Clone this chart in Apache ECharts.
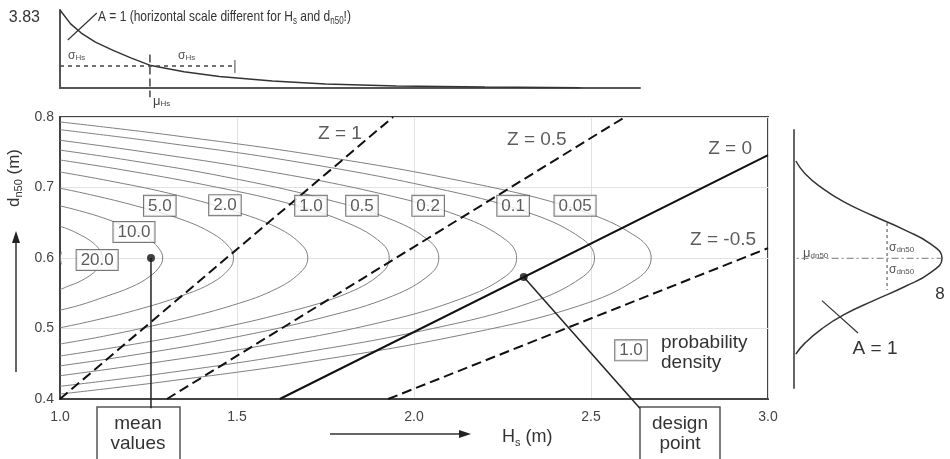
<!DOCTYPE html>
<html>
<head>
<meta charset="utf-8">
<script src="https://cdn.jsdelivr.net/npm/echarts@6/dist/echarts.min.js"></script>
<style>
  html, body { margin: 0; padding: 0; background: #fff; }
  #main { width: 950px; height: 459px; }
</style>
</head>
<body>
<div id="main"></div>
<script>
// contour lines of the joint density: [Hs, dn50]
var c20  = [[1.000,0.645],[1.023,0.641],[1.053,0.634],[1.084,0.625],[1.105,0.616],[1.117,0.607],[1.120,0.600],[1.117,0.593],[1.105,0.584],[1.084,0.575],[1.053,0.566],[1.023,0.560],[1.000,0.555]];
var c10  = [[1.000,0.674],[1.055,0.667],[1.127,0.656],[1.202,0.641],[1.254,0.626],[1.283,0.611],[1.290,0.600],[1.283,0.589],[1.254,0.574],[1.202,0.559],[1.127,0.545],[1.055,0.533],[1.000,0.526]];
var c5   = [[1.000,0.699],[1.093,0.689],[1.214,0.674],[1.342,0.655],[1.430,0.635],[1.479,0.615],[1.490,0.600],[1.479,0.585],[1.430,0.565],[1.342,0.546],[1.214,0.526],[1.093,0.511],[1.000,0.501]];
var c2   = [[1.000,0.722],[1.133,0.710],[1.306,0.692],[1.488,0.667],[1.614,0.643],[1.684,0.618],[1.700,0.600],[1.684,0.582],[1.614,0.557],[1.488,0.533],[1.306,0.509],[1.133,0.490],[1.000,0.478]];
var c1   = [[1.000,0.739],[1.177,0.725],[1.407,0.704],[1.649,0.677],[1.816,0.649],[1.909,0.621],[1.930,0.600],[1.909,0.579],[1.816,0.551],[1.649,0.524],[1.407,0.496],[1.177,0.475],[1.000,0.461]];
var c05  = [[1.000,0.753],[1.203,0.738],[1.468,0.715],[1.746,0.684],[1.939,0.654],[2.046,0.623],[2.070,0.600],[2.046,0.577],[1.939,0.546],[1.746,0.516],[1.468,0.485],[1.203,0.462],[1.000,0.447]];
var c02  = [[1.000,0.767],[1.245,0.750],[1.564,0.725],[1.900,0.692],[2.132,0.659],[2.261,0.625],[2.290,0.600],[2.261,0.575],[2.132,0.542],[1.900,0.508],[1.564,0.475],[1.245,0.450],[1.000,0.433]];
var c01  = [[1.000,0.782],[1.287,0.764],[1.661,0.737],[2.053,0.700],[2.325,0.664],[2.476,0.627],[2.510,0.600],[2.476,0.573],[2.325,0.536],[2.053,0.500],[1.661,0.464],[1.287,0.436],[1.000,0.418]];
var c005 = [[1.000,0.793],[1.317,0.774],[1.731,0.745],[2.165,0.706],[2.465,0.668],[2.632,0.629],[2.670,0.600],[2.632,0.571],[2.465,0.532],[2.165,0.494],[1.731,0.455],[1.317,0.426],[1.000,0.407]];
var c50  = [[1.004,0.609],[1.002,0.604],[1.001,0.600],[1.002,0.596],[1.004,0.591]];

// contour labels
var levelText = ['20.0','10.0','5.0','2.0','1.0','0.5','0.2','0.1','0.05','1.0'];
var levelPos  = [[1.105,0.597],[1.209,0.637],[1.282,0.674],[1.466,0.675],[1.709,0.674],[1.853,0.674],[2.040,0.674],[2.280,0.674],[2.455,0.674],[2.613,0.469]];

// limit state lines Z
var zPlus1   = [[1.000,0.400],[1.941,0.800]];
var zPlus05  = [[1.302,0.400],[2.596,0.800]];
var zZero    = [[1.621,0.400],[3.000,0.746]];
var zMinus05 = [[1.927,0.400],[3.000,0.614]];
var zText = ['Z = 1','Z = 0.5','Z = 0','Z = -0.5'];
var zTextPos = [[1.791,0.776],[2.347,0.767],[2.893,0.755],[2.873,0.626]];

var meanPoint = [1.257, 0.600];
var designPoint = [2.310, 0.573];
var meanLeader = [[1.257,0.600],[1.257,0.387]];
var designLeader = [[2.310,0.573],[2.638,0.387]];

// marginal density of Hs (top), [Hs, density]
var hsDensity = [[1.00,3.83],[1.03,3.15],[1.06,2.70],[1.10,2.25],[1.15,1.85],[1.20,1.48],[1.257,1.10],[1.35,0.80],[1.45,0.56],[1.60,0.34],[1.75,0.20],[1.95,0.10],[2.20,0.045],[2.47,0.015]];
var hsSigma = [[1.000,1.08],[1.494,1.08]];
var hsSigmaTick = [[1.494,1.37],[1.494,0.74]];
var hsMu = [[1.254,1.65],[1.254,-0.45]];
var hsCross = [[1.022,2.36],[1.104,3.68]];

// marginal density of dn50 (right), [density, dn50]
var dnDensity = [[0.10,0.738],[0.6,0.72],[1.5,0.70],[2.7,0.68],[4.3,0.66],[6.0,0.64],[7.4,0.62],[8.0,0.60],[7.4,0.58],[6.0,0.56],[4.3,0.54],[2.7,0.52],[1.5,0.50],[0.6,0.48],[0.10,0.464]];
var dnMu = [[-0.4,0.600],[8.5,0.600]];
var dnSigma = [[5.03,0.650],[5.03,0.555]];
var dnCross = [[1.51,0.540],[3.46,0.494]];

var FONT = 'Liberation Sans, Arial, sans-serif';
var chart = echarts.init(document.getElementById('main'));

function contour(data) {
    return {
        type: 'line', xAxisIndex: 0, yAxisIndex: 0, data: data,
        smooth: 0.4, showSymbol: false, silent: true,
        lineStyle: { color: '#808080', width: 1 }
    };
}
function zLine(data, dashed) {
    return {
        type: 'line', xAxisIndex: 0, yAxisIndex: 0, data: data,
        showSymbol: false, silent: true,
        lineStyle: { color: '#111', width: 2, type: dashed ? [10, 5] : 'solid' }
    };
}
function plain(data, xi, style, clip) {
    return {
        type: 'line', xAxisIndex: xi, yAxisIndex: xi, data: data,
        showSymbol: false, silent: true, clip: clip !== false,
        lineStyle: style
    };
}
function small(size, color) {
    return { sub: { fontSize: size, verticalAlign: 'bottom', lineHeight: size + 2, fill: color } };
}

var option = {
    backgroundColor: '#fff',
    animation: false,
    grid: [
        { left: 60, top: 117, width: 708, height: 282, show: true, borderColor: '#444', borderWidth: 2 },
        { left: 60, top: 10, width: 580, height: 78 },
        { left: 794, top: 130, width: 148, height: 258 }
    ],
    xAxis: [
        {
            gridIndex: 0, type: 'value', min: 1, max: 3, interval: 0.5,
            axisLine: { show: true, lineStyle: { color: '#444', width: 2 } },
            axisTick: { show: false },
            axisLabel: { margin: 11, fontSize: 14, color: '#444', fontFamily: FONT, formatter: function (v) { return v.toFixed(1); } },
            splitLine: { show: true, lineStyle: { color: '#e2e2e2', width: 1 } }
        },
        {
            gridIndex: 1, type: 'value', min: 1, max: 2.638,
            axisLine: { show: true, onZero: false, lineStyle: { color: '#555', width: 2 } },
            axisTick: { show: false }, axisLabel: { show: false }, splitLine: { show: false }
        },
        { gridIndex: 2, type: 'value', min: 0, max: 8, show: false }
    ],
    yAxis: [
        {
            gridIndex: 0, type: 'value', min: 0.4, max: 0.8, interval: 0.1,
            axisLine: { show: true, lineStyle: { color: '#444', width: 2 } },
            axisTick: { show: false },
            axisLabel: { margin: 6, fontSize: 14, color: '#444', fontFamily: FONT, formatter: function (v) { return v.toFixed(1); } },
            splitLine: { show: true, lineStyle: { color: '#e2e2e2', width: 1 } }
        },
        {
            gridIndex: 1, type: 'value', min: 0, max: 3.83, interval: 3.83,
            axisLine: { show: true, onZero: false, lineStyle: { color: '#555', width: 2 } },
            axisTick: { show: false },
            axisLabel: { margin: 20, fontSize: 16, color: '#333', fontFamily: FONT, verticalAlign: 'top',
                formatter: function (v) { return v > 0 ? '3.83' : ''; } },
            splitLine: { show: false }
        },
        {
            gridIndex: 2, type: 'value', min: 0.416, max: 0.782,
            axisLine: { show: true, onZero: false, lineStyle: { color: '#666', width: 2 } },
            axisTick: { show: false }, axisLabel: { show: false }, splitLine: { show: false }
        }
    ],
    series: [
        contour(c50), contour(c20), contour(c10), contour(c5), contour(c2), contour(c1),
        contour(c05), contour(c02), contour(c01), contour(c005),
        zLine(zPlus1, true), zLine(zPlus05, true), zLine(zZero, false), zLine(zMinus05, true),
        plain(meanLeader, 0, { color: '#222', width: 1.5 }, false),
        plain(designLeader, 0, { color: '#222', width: 1.5 }, false),
        {
            type: 'scatter', xAxisIndex: 0, yAxisIndex: 0, symbolSize: 8, z: 5,
            itemStyle: { color: '#111' }, data: [meanPoint, designPoint]
        },
        {
            type: 'scatter', xAxisIndex: 0, yAxisIndex: 0, symbolSize: 0.1, z: 10, silent: true,
            itemStyle: { color: 'transparent' },
            label: {
                show: true, position: 'inside', formatter: '{b}',
                fontSize: 17, fontFamily: FONT, color: '#333',
                backgroundColor: '#fff', borderColor: '#555', borderWidth: 1, padding: [2, 4, 1, 4]
            },
            data: levelPos.map(function (p, i) { return { name: levelText[i], value: p }; })
        },
        {
            type: 'scatter', xAxisIndex: 0, yAxisIndex: 0, symbolSize: 0.1, z: 10, silent: true,
            itemStyle: { color: 'transparent' },
            label: { show: true, position: 'inside', formatter: '{b}', fontSize: 19, fontFamily: FONT, color: '#333' },
            data: zTextPos.map(function (p, i) { return { name: zText[i], value: p }; })
        },
        // top marginal
        plain(hsDensity, 1, { color: '#333', width: 1.5 }),
        plain(hsSigma, 1, { color: '#444', width: 1.5, type: [4, 4] }),
        plain(hsSigmaTick, 1, { color: '#444', width: 1 }),
        plain(hsMu, 1, { color: '#444', width: 1.5, type: [8, 4] }, false),
        plain(hsCross, 1, { color: '#333', width: 1.2 }, false),
        // right marginal
        Object.assign(plain(dnDensity, 2, { color: '#333', width: 1.5 }, false), { smooth: 0.5 }),
        plain(dnMu, 2, { color: '#777', width: 1, type: [7, 3, 2, 3] }, false),
        plain(dnSigma, 2, { color: '#444', width: 1, type: [3, 3] }),
        plain(dnCross, 2, { color: '#333', width: 1.2 })
    ],
    graphic: [
        {
            type: 'text', x: 98, y: 17, scaleX: 0.8,
            style: { text: 'A = 1 (horizontal scale different for H{sub|s} and d{sub|n50}!)', fontSize: 15, fontFamily: FONT,
                fill: '#333', align: 'left', verticalAlign: 'middle', lineHeight: 18, rich: small(10, '#333') }
        },
        { type: 'text', x: 68, y: 56, style: { text: 'σ{sub|Hs}', fontSize: 12, fontFamily: FONT, fill: '#555', verticalAlign: 'middle', rich: small(8, '#555') } },
        { type: 'text', x: 178, y: 56, style: { text: 'σ{sub|Hs}', fontSize: 12, fontFamily: FONT, fill: '#555', verticalAlign: 'middle', rich: small(8, '#555') } },
        { type: 'text', x: 153, y: 101, style: { text: 'μ{sub|Hs}', fontSize: 13, fontFamily: FONT, fill: '#444', verticalAlign: 'middle', rich: small(8, '#444') } },
        // y axis name and arrow
        {
            type: 'text', x: 14, y: 178, rotation: Math.PI / 2,
            style: { text: 'd{sub|n50} (m)', fontSize: 17, fontFamily: FONT, fill: '#333', align: 'center', verticalAlign: 'middle', lineHeight: 20,
                rich: small(11, '#333') }
        },
        { type: 'line', shape: { x1: 16, y1: 372, x2: 16, y2: 240 }, style: { stroke: '#333', lineWidth: 1.5 } },
        { type: 'polygon', shape: { points: [[16, 231], [12, 243], [20, 243]] }, style: { fill: '#222' } },
        // x axis name and arrow
        { type: 'line', shape: { x1: 330, y1: 434, x2: 462, y2: 434 }, style: { stroke: '#333', lineWidth: 1.5 } },
        { type: 'polygon', shape: { points: [[471, 434], [459, 430], [459, 438]] }, style: { fill: '#222' } },
        {
            type: 'text', x: 502, y: 437,
            style: { text: 'H{sub|s} (m)', fontSize: 18, fontFamily: FONT, fill: '#333', align: 'left', verticalAlign: 'middle', lineHeight: 22,
                rich: small(11, '#333') }
        },
        // boxes
        { type: 'rect', shape: { x: 97, y: 407, width: 83, height: 62 }, style: { fill: '#fff', stroke: '#555', lineWidth: 1.5 } },
        { type: 'text', x: 138, y: 434, style: { text: 'mean\nvalues', fontSize: 19, fontFamily: FONT, fill: '#333', align: 'center', verticalAlign: 'middle', lineHeight: 20 } },
        { type: 'rect', shape: { x: 640, y: 407, width: 80, height: 62 }, style: { fill: '#fff', stroke: '#555', lineWidth: 1.5 } },
        { type: 'text', x: 680, y: 434, style: { text: 'design\npoint', fontSize: 19, fontFamily: FONT, fill: '#333', align: 'center', verticalAlign: 'middle', lineHeight: 20 } },
        { type: 'text', x: 661, y: 353, style: { text: 'probability\ndensity', fontSize: 19, fontFamily: FONT, fill: '#333', align: 'left', verticalAlign: 'middle', lineHeight: 20 } },
        // right marginal texts
        { type: 'text', x: 803, y: 253, style: { text: 'μ{sub|dn50}', fontSize: 13, fontFamily: FONT, fill: '#555', verticalAlign: 'middle', rich: small(8, '#555') } },
        { type: 'text', x: 889, y: 248, style: { text: 'σ{sub|dn50}', fontSize: 12, fontFamily: FONT, fill: '#555', verticalAlign: 'middle', rich: small(8, '#555') } },
        { type: 'text', x: 889, y: 270, style: { text: 'σ{sub|dn50}', fontSize: 12, fontFamily: FONT, fill: '#555', verticalAlign: 'middle', rich: small(8, '#555') } },
        { type: 'text', x: 940, y: 294, style: { text: '8', fontSize: 17, fontFamily: FONT, fill: '#333', align: 'center', verticalAlign: 'middle' } },
        { type: 'text', x: 875, y: 349, style: { text: 'A = 1', fontSize: 19, fontFamily: FONT, fill: '#333', align: 'center', verticalAlign: 'middle' } }
    ]
};
chart.setOption(option);
</script>
</body>
</html>
